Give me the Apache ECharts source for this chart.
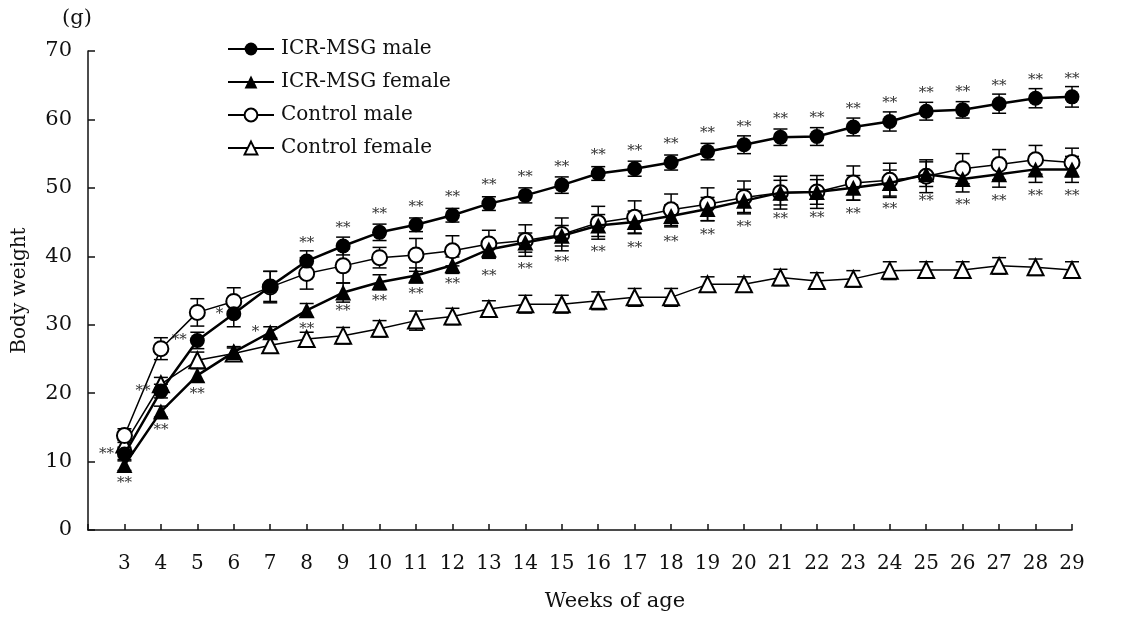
<!DOCTYPE html>
<html>
<head>
<meta charset="utf-8">
<script src="https://cdn.jsdelivr.net/npm/echarts@6/dist/echarts.min.js"></script>
<style>
  html, body { margin: 0; padding: 0; background: #fff; }
  #main { width: 1124px; height: 617px; }
</style>
</head>
<body>
<div id="main"></div>
<script>
// weeks of age
const weeks = [3, 4, 5, 6, 7, 8, 9, 10, 11, 12, 13, 14, 15, 16, 17, 18, 19, 20, 21, 22, 23, 24, 25, 26, 27, 28, 29];

// body weight (g)
const msgMale = [11.1, 20.3, 27.7, 31.6, 35.6, 39.3, 41.5, 43.5, 44.6, 46.0, 47.7, 48.9, 50.4, 52.1, 52.8, 53.7, 55.3, 56.3, 57.4, 57.5, 58.9, 59.7, 61.2, 61.4, 62.3, 63.1, 63.3];
const msgFemale = [9.5, 17.3, 22.6, 26.0, 28.9, 32.1, 34.7, 36.2, 37.2, 38.7, 41.0, 42.0, 43.0, 44.5, 45.0, 45.9, 46.9, 48.1, 49.3, 49.4, 50.0, 50.7, 52.0, 51.3, 52.0, 52.7, 52.7];
const ctlMale = [13.8, 26.5, 31.8, 33.4, 35.5, 37.5, 38.6, 39.8, 40.2, 40.8, 41.8, 42.3, 43.2, 44.9, 45.7, 46.8, 47.6, 48.6, 49.3, 49.4, 50.7, 51.1, 51.7, 52.8, 53.4, 54.1, 53.7];
const ctlFemale = [12.5, 21.3, 24.8, 25.8, 27.0, 27.9, 28.4, 29.4, 30.6, 31.2, 32.3, 33.0, 33.0, 33.5, 34.0, 34.0, 35.9, 35.9, 36.9, 36.4, 36.7, 37.9, 38.0, 38.0, 38.6, 38.4, 38.0];

// standard deviation bars
const msgMaleErr = [1.0, 1.0, 1.2, 1.9, 2.2, 1.5, 1.3, 1.2, 1.0, 1.0, 1.0, 1.1, 1.2, 1.0, 1.1, 1.1, 1.2, 1.3, 1.2, 1.3, 1.3, 1.4, 1.3, 1.2, 1.4, 1.4, 1.5];
const msgFemaleErr = [0.8, 0.8, 1.0, 0.8, 0.8, 1.0, 1.4, 1.1, 1.1, 1.2, 1.3, 1.4, 1.5, 1.6, 1.6, 1.6, 1.7, 1.7, 1.8, 1.8, 1.8, 1.9, 1.8, 1.9, 1.9, 1.9, 1.9];
const ctlMaleErr = [1.0, 1.6, 2.0, 2.0, 2.3, 2.3, 2.5, 1.5, 2.4, 2.2, 2.0, 2.3, 2.4, 2.4, 2.4, 2.3, 2.4, 2.4, 2.4, 2.4, 2.5, 2.5, 2.4, 2.2, 2.2, 2.1, 2.1];
const ctlFemaleErr = [0.6, 1.0, 1.2, 0.8, 0.9, 1.0, 1.2, 1.2, 1.4, 1.2, 1.2, 1.3, 1.3, 1.3, 1.3, 1.3, 1.1, 1.1, 1.2, 1.2, 1.2, 1.3, 1.2, 1.2, 1.2, 1.2, 1.2];

// significance marks vs. control
const maleSig = ['**', '**', '**', '*', '', '**', '**', '**', '**', '**', '**', '**', '**', '**', '**', '**', '**', '**', '**', '**', '**', '**', '**', '**', '**', '**', '**'];
const femaleSig = ['**', '**', '**', '', '*', '**', '**', '**', '**', '**', '**', '**', '**', '**', '**', '**', '**', '**', '**', '**', '**', '**', '**', '**', '**', '**', '**'];

const FONT = 'DejaVu Serif';

function lineData(vals, sig, isMale) {
  return vals.map((v, i) => {
    let item = { value: [weeks[i], v] };
    if (sig) {
      let w = weeks[i];
      let pos = isMale ? (w <= 6 ? 'left' : 'top') : (w === 7 ? 'left' : 'bottom');
      // female marks sit below the wider control error bars from week 13 on
      let dist = (!isMale && w >= 13) ? 11 : 3;
      item.label = { show: sig[i] !== '', position: pos, distance: dist, formatter: sig[i] };
    }
    return item;
  });
}

function errData(vals, errs) {
  return vals.map((v, i) => [weeks[i], v, errs[i]]);
}

function errSeries(vals, errs) {
  return {
    type: 'custom',
    silent: true,
    z: 1,
    data: errData(vals, errs),
    renderItem: function (params, api) {
      let x = api.value(0), y = api.value(1), e = api.value(2);
      let hi = api.coord([x, y + e]);
      let lo = api.coord([x, y - e]);
      let w = 7;
      let st = { stroke: '#000', lineWidth: 1.5 };
      return {
        type: 'group',
        children: [
          { type: 'line', shape: { x1: hi[0], y1: hi[1], x2: lo[0], y2: lo[1] }, style: st },
          { type: 'line', shape: { x1: hi[0] - w, y1: hi[1], x2: hi[0] + w, y2: hi[1] }, style: st },
          { type: 'line', shape: { x1: lo[0] - w, y1: lo[1], x2: lo[0] + w, y2: lo[1] }, style: st }
        ]
      };
    }
  };
}

const sigLabel = {
  fontFamily: FONT,
  fontSize: 15,
  color: '#333'
};

let chart = echarts.init(document.getElementById('main'));
let option = {
  animation: false,
  backgroundColor: '#fff',
  textStyle: { fontFamily: FONT, color: '#111' },
  graphic: [
    { type: 'text', left: 62, top: 8, style: { text: '(g)', fontFamily: FONT, fontSize: 21, fill: '#111' } }
  ],
  legend: {
    orient: 'vertical',
    left: 222,
    top: 34,
    itemWidth: 46,
    itemHeight: 16,
    itemGap: 13,
    textStyle: { fontFamily: FONT, fontSize: 20, color: '#111', padding: [0, 0, 0, 2] },
    data: ['ICR-MSG male', 'ICR-MSG female', 'Control male', 'Control female']
  },
  grid: { left: 88, right: 52, top: 51, bottom: 85 },
  xAxis: {
    type: 'value',
    min: 2,
    max: 29,
    interval: 1,
    name: 'Weeks of age',
    nameLocation: 'middle',
    nameGap: 61,
    nameTextStyle: { fontFamily: FONT, fontSize: 21, color: '#111', padding: [0, 0, 0, 70] },
    splitLine: { show: false },
    axisLine: { lineStyle: { color: '#111', width: 1.5 } },
    axisTick: { inside: true, length: 6, lineStyle: { color: '#111', width: 1.5 } },
    axisLabel: {
      margin: 24,
      fontFamily: FONT,
      fontSize: 20,
      color: '#111',
      formatter: v => (v < 3 ? '' : String(v))
    }
  },
  yAxis: {
    type: 'value',
    min: 0,
    max: 70,
    interval: 10,
    name: 'Body weight',
    nameLocation: 'middle',
    nameRotate: 90,
    nameGap: 58,
    nameTextStyle: { fontFamily: FONT, fontSize: 20, color: '#111' },
    splitLine: { show: false },
    axisLine: { show: true, lineStyle: { color: '#111', width: 1.5 } },
    axisTick: { show: true, inside: true, length: 7, lineStyle: { color: '#111', width: 1.5 } },
    axisLabel: { margin: 16, fontFamily: FONT, fontSize: 21, color: '#111' }
  },
  series: [
    errSeries(msgMale, msgMaleErr),
    errSeries(msgFemale, msgFemaleErr),
    errSeries(ctlMale, ctlMaleErr),
    errSeries(ctlFemale, ctlFemaleErr),
    {
      name: 'Control female',
      type: 'line',
      z: 2,
      data: lineData(ctlFemale),
      symbol: 'emptyTriangle',
      symbolSize: 16,
      itemStyle: { color: '#000', borderWidth: 2 },
      lineStyle: { color: '#000', width: 1.5 }
    },
    {
      name: 'Control male',
      type: 'line',
      z: 3,
      data: lineData(ctlMale),
      symbol: 'emptyCircle',
      symbolSize: 15,
      itemStyle: { color: '#000', borderWidth: 2 },
      lineStyle: { color: '#000', width: 1.5 }
    },
    {
      name: 'ICR-MSG female',
      type: 'line',
      z: 4,
      data: lineData(msgFemale, femaleSig, false),
      symbol: 'triangle',
      symbolSize: 16,
      itemStyle: { color: '#000' },
      lineStyle: { color: '#000', width: 2.5 },
      label: sigLabel
    },
    {
      name: 'ICR-MSG male',
      type: 'line',
      z: 5,
      data: lineData(msgMale, maleSig, true),
      symbol: 'circle',
      symbolSize: 15,
      itemStyle: { color: '#000' },
      lineStyle: { color: '#000', width: 2.5 },
      label: sigLabel
    }
  ]
};
chart.setOption(option);
</script>
</body>
</html>
